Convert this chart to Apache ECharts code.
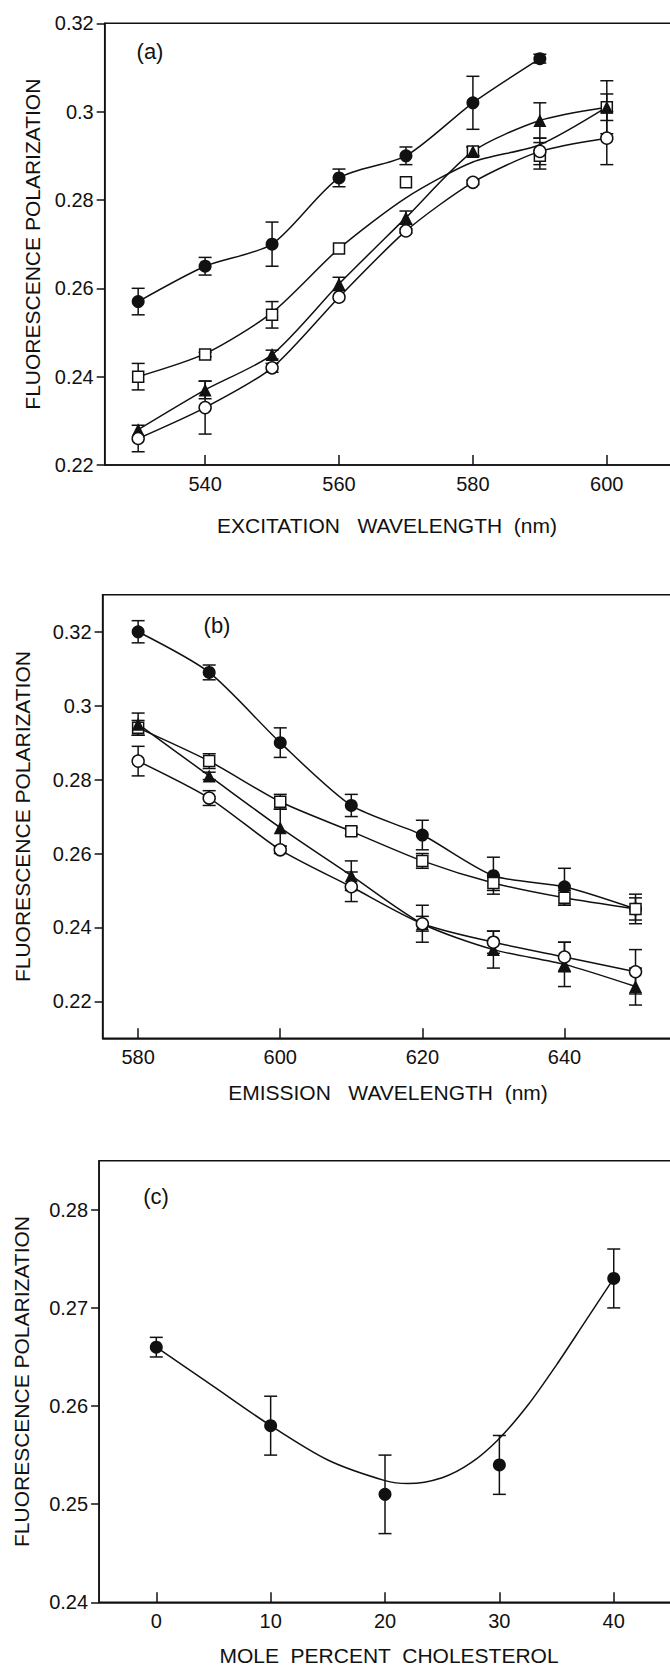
<!DOCTYPE html>
<html>
<head>
<meta charset="utf-8">
<title>Fluorescence polarization</title>
<script src="https://cdn.jsdelivr.net/npm/echarts@6/dist/echarts.min.js"></script>
<style>
  html, body { margin: 0; padding: 0; background: #fff; }
  #chart { width: 670px; height: 1665px; }
</style>
</head>
<body>
<div id="chart"></div>
<script>
  // (a) excitation wavelength
  const exX = [530, 540, 550, 560, 570, 580, 590, 600];
  const exFilledCircle = [0.257, 0.265, 0.270, 0.285, 0.290, 0.302, 0.312, null];
  const exFilledCircleErr = [0.003, 0.002, 0.005, 0.002, 0.002, 0.006, 0.001, 0];
  const exOpenSquare = [0.240, 0.245, 0.254, 0.269, 0.284, 0.291, 0.290, 0.301];
  const exOpenSquareErr = [0.003, 0.0005, 0.003, 0, 0, 0.001, 0.003, 0.003];
  const exOpenSquareFit = [0.240, 0.2452, 0.2545, 0.269, 0.2805, 0.2886, 0.2925, 0.301]; // drawn curve
  const exTriangle = [0.228, 0.237, 0.245, 0.261, 0.276, 0.291, 0.298, 0.301];
  const exTriangleErr = [0, 0.002, 0.001, 0.0015, 0.0015, 0.001, 0.004, 0.006];
  const exOpenCircle = [0.226, 0.233, 0.242, 0.258, 0.273, 0.284, 0.291, 0.294];
  const exOpenCircleErr = [0.003, 0.006, 0.001, 0, 0.0005, 0.0005, 0.003, 0.006];
  const exXTicks = [540, 560, 580, 600];
  const exYTicks = [0.22, 0.24, 0.26, 0.28, 0.30, 0.32];

  // (b) emission wavelength
  const emX = [580, 590, 600, 610, 620, 630, 640, 650];
  const emFilledCircle = [0.320, 0.309, 0.290, 0.273, 0.265, 0.254, 0.251, 0.245];
  const emFilledCircleErr = [0.003, 0.002, 0.004, 0.003, 0.004, 0.005, 0.005, 0.004];
  const emOpenSquare = [0.294, 0.285, 0.274, 0.266, 0.258, 0.252, 0.248, 0.245];
  const emOpenSquareErr = [0.002, 0.002, 0.002, 0.001, 0.002, 0.002, 0.002, 0.003];
  const emTriangle = [0.295, 0.281, 0.267, 0.254, 0.241, 0.234, 0.230, 0.224];
  const emTriangleErr = [0.003, 0.001, 0.005, 0.004, 0.005, 0.005, 0.006, 0.005];
  const emOpenCircle = [0.285, 0.275, 0.261, 0.251, 0.241, 0.236, 0.232, 0.228];
  const emOpenCircleErr = [0.004, 0.002, 0.001, 0.004, 0.002, 0.003, 0.004, 0.006];
  const emXTicks = [580, 600, 620, 640];
  const emYTicks = [0.22, 0.24, 0.26, 0.28, 0.30, 0.32];

  // (c) cholesterol
  const cholX = [0, 10, 20, 30, 40];
  const cholY = [0.266, 0.258, 0.251, 0.254, 0.273];
  const cholErr = [0.001, 0.003, 0.004, 0.003, 0.003];
  const cholFitX = [0, 5, 10, 15, 20, 22, 25, 27.5, 30, 32.5, 35, 37.5, 40];
  const cholFitY = [0.266, 0.262, 0.258, 0.2545, 0.2524, 0.2521, 0.2527, 0.2542, 0.2567, 0.2601, 0.2642, 0.2686, 0.273];
  const cholXTicks = [0, 10, 20, 30, 40];
  const cholYTicks = [0.24, 0.25, 0.26, 0.27, 0.28];

  const INK = '#111';
  const FONT = 'Liberation Sans';

  function pairs(xs, ys) {
    return xs.map((x, i) => [x, ys[i]]).filter(d => d[1] != null);
  }

  function line(xs, ys, gi, smooth) {
    return {
      type: 'line', xAxisIndex: gi, yAxisIndex: gi,
      data: pairs(xs, ys), smooth: smooth, showSymbol: false,
      lineStyle: { color: INK, width: 1.5 },
      emphasis: { disabled: true }, silent: true, z: 2
    };
  }

  function marks(xs, ys, symbol, filled, size, gi) {
    return {
      type: 'scatter', xAxisIndex: gi, yAxisIndex: gi,
      data: pairs(xs, ys), symbol: symbol, symbolSize: size,
      itemStyle: { color: filled ? INK : '#fff', borderColor: INK, borderWidth: filled ? 0 : 1.5, opacity: 1 },
      emphasis: { disabled: true }, silent: true, z: 3
    };
  }

  function errorBars(xs, ys, errs, gi) {
    const data = [];
    xs.forEach((x, i) => {
      if (ys[i] != null && errs[i] > 0) data.push([x, ys[i] - errs[i], ys[i] + errs[i]]);
    });
    return {
      type: 'custom', xAxisIndex: gi, yAxisIndex: gi, silent: true, z: 2,
      encode: { x: 0, y: [1, 2] },
      renderItem: function (params, api) {
        const lo = api.coord([api.value(0), api.value(1)]);
        const hi = api.coord([api.value(0), api.value(2)]);
        const hw = 6.5;
        const style = { stroke: INK, lineWidth: 1.5 };
        return {
          type: 'group',
          children: [
            { type: 'line', shape: { x1: lo[0], y1: lo[1], x2: hi[0], y2: hi[1] }, style: style },
            { type: 'line', shape: { x1: lo[0] - hw, y1: lo[1], x2: lo[0] + hw, y2: lo[1] }, style: style },
            { type: 'line', shape: { x1: hi[0] - hw, y1: hi[1], x2: hi[0] + hw, y2: hi[1] }, style: style }
          ]
        };
      },
      data: data
    };
  }

  function xAxisFor(gi, min, max, ticks) {
    return {
      type: 'value', gridIndex: gi, min: min, max: max,
      axisLine: { show: true, onZero: false, lineStyle: { color: INK, width: 1.5 } },
      axisTick: { show: true, inside: true, length: 10, customValues: ticks, lineStyle: { color: INK, width: 1.5 } },
      axisLabel: { customValues: ticks, margin: 9, color: '#111', fontSize: 20, fontFamily: FONT },
      splitLine: { show: false }
    };
  }

  function yAxisFor(gi, min, max, ticks, gap) {
    return {
      type: 'value', gridIndex: gi, min: min, max: max,
      name: 'FLUORESCENCE POLARIZATION', nameLocation: 'middle', nameGap: gap,
      nameTextStyle: { color: '#111', fontSize: 21, fontFamily: FONT },
      axisLine: { show: true, onZero: false, lineStyle: { color: INK, width: 1.5 } },
      axisTick: { show: true, inside: false, length: 8, customValues: ticks, lineStyle: { color: INK, width: 1.5 } },
      axisLabel: { customValues: ticks, margin: 11, color: '#111', fontSize: 20, fontFamily: FONT },
      splitLine: { show: false }
    };
  }

  function label(text, x, y, size) {
    return {
      type: 'text', x: x, y: y, silent: true,
      style: { text: text, fill: '#111', fontSize: size, fontFamily: FONT, align: 'center', verticalAlign: 'middle' }
    };
  }

  // the frames run past the right edge of the page, as in the source figure
  const gridBox = { show: true, borderColor: INK, borderWidth: 1.5, backgroundColor: 'transparent', outerBoundsMode: 'none', containLabel: false };

  const chart = echarts.init(document.getElementById('chart'), null, { renderer: 'svg' });
  chart.setOption({
    animation: false,
    backgroundColor: '#fff',
    grid: [
      Object.assign({ left: 104.7, top: 23.3, width: 636, height: 441.7 }, gridBox),
      Object.assign({ left: 102.6, top: 594.8, width: 639.5, height: 443.5 }, gridBox),
      Object.assign({ left: 99.1, top: 1160.7, width: 629, height: 441.6 }, gridBox)
    ],
    xAxis: [
      xAxisFor(0, 525, 620, exXTicks),
      xAxisFor(1, 575, 665, emXTicks),
      xAxisFor(2, -5, 50, cholXTicks)
    ],
    yAxis: [
      yAxisFor(0, 0.22, 0.32, exYTicks, 62),
      yAxisFor(1, 0.21, 0.33, emYTicks, 70),
      yAxisFor(2, 0.24, 0.285, cholYTicks, 67)
    ],
    graphic: [
      label('(a)', 150, 51, 22),
      label('(b)', 217, 625, 22),
      label('(c)', 156, 1196, 22),
      label('EXCITATION   WAVELENGTH  (nm)', 387, 525, 21),
      label('EMISSION   WAVELENGTH  (nm)', 388, 1092, 21),
      label('MOLE  PERCENT  CHOLESTEROL', 389, 1655, 21)
    ],
    series: [
      errorBars(exX, exFilledCircle, exFilledCircleErr, 0),
      errorBars(exX, exOpenSquare, exOpenSquareErr, 0),
      errorBars(exX, exTriangle, exTriangleErr, 0),
      errorBars(exX, exOpenCircle, exOpenCircleErr, 0),
      line(exX, exFilledCircle, 0, 0.25),
      line(exX, exOpenSquareFit, 0, 0.25),
      line(exX, exTriangle, 0, 0.25),
      line(exX, exOpenCircle, 0, 0.25),
      marks(exX, exFilledCircle, 'circle', true, 13, 0),
      marks(exX, exOpenSquare, 'rect', false, 11, 0),
      marks(exX, exTriangle, 'triangle', true, 13, 0),
      marks(exX, exOpenCircle, 'circle', false, 12, 0),

      errorBars(emX, emFilledCircle, emFilledCircleErr, 1),
      errorBars(emX, emOpenSquare, emOpenSquareErr, 1),
      errorBars(emX, emTriangle, emTriangleErr, 1),
      errorBars(emX, emOpenCircle, emOpenCircleErr, 1),
      line(emX, emFilledCircle, 1, 0.25),
      line(emX, emOpenSquare, 1, 0.25),
      line(emX, emTriangle, 1, 0.25),
      line(emX, emOpenCircle, 1, 0.25),
      marks(emX, emFilledCircle, 'circle', true, 13, 1),
      marks(emX, emOpenSquare, 'rect', false, 11, 1),
      marks(emX, emTriangle, 'triangle', true, 13, 1),
      marks(emX, emOpenCircle, 'circle', false, 12, 1),

      errorBars(cholX, cholY, cholErr, 2),
      line(cholFitX, cholFitY, 2, 0.3),
      marks(cholX, cholY, 'circle', true, 13, 2)
    ]
  });
</script>
</body>
</html>
